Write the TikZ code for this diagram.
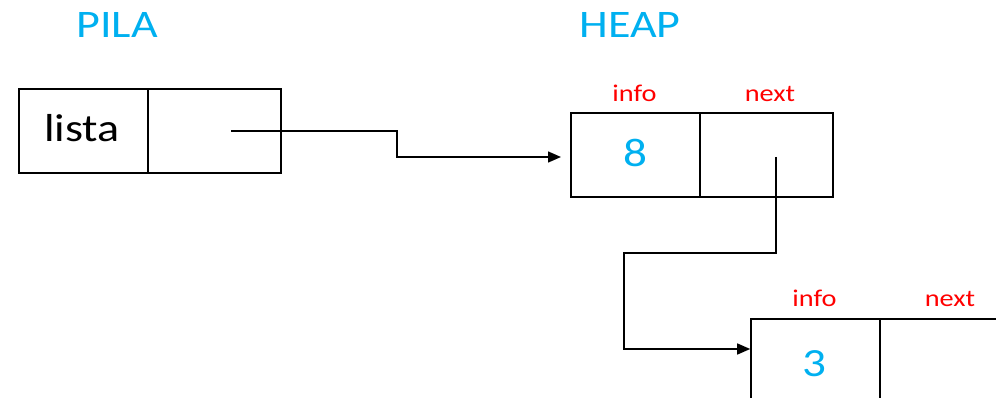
\documentclass[tikz,border=0pt]{standalone}
\usepackage{fontspec}
\setmainfont{Carlito}[FakeStretch=1.18]
\usetikzlibrary{arrows.meta}
\definecolor{titleblue}{RGB}{0,176,240}
\definecolor{labelred}{RGB}{255,0,0}
\begin{document}
\begin{tikzpicture}[x=1pt,y=-1pt,
  cellA/.style={draw, line width=1.6pt, minimum height=84pt, minimum width=129pt, inner sep=0pt},
  cellB/.style={draw, line width=1.6pt, minimum height=84pt, minimum width=133pt, inner sep=0pt},
  titletext/.style={text=titleblue, font=\fontsize{39}{44}\selectfont, anchor=base, inner sep=0pt},
  bodytext/.style={text=black, font=\fontsize{39}{44}\selectfont, anchor=base, inner sep=0pt},
  valtext/.style={text=titleblue, font=\fontsize{40}{44}\selectfont, anchor=base, inner sep=0pt},
  fieldtext/.style={text=labelred, font=\fontsize{24}{28}\selectfont, anchor=base, inner sep=0pt},
  link/.style={draw, line width=1.5pt, -{Triangle[length=13pt,width=11pt]}}
]
\useasboundingbox (0,0) rectangle (996,398);
\clip (0,0) rectangle (996,398);
% titles
\node[titletext] (pila) at (117,38) {PILA};
\node[titletext] (heap) at (630,38) {HEAP};
% stack box
\node[cellA] (lista) at (83.5,131) {};
\node[cellB] (listaptr) at (214.5,131) {};
\node[bodytext] (listatext) at (82,142) {lista};
% node 8
\node[cellA] (info1) at (635.5,155) {};
\node[cellB] (next1) at (766.5,155) {};
\node[valtext] (v1) at (635,167) {8};
\node[fieldtext] (i1lab) at (634.5,102) {info};
\node[fieldtext] (n1lab) at (770,102) {next};
% node 3
\node[cellA] (info2) at (815.5,361) {};
\node[cellB] (next2) at (946.5,361) {};
\node[valtext] (v2) at (814.5,376) {3};
\node[fieldtext] (i2lab) at (814.5,306.5) {info};
\node[fieldtext] (n2lab) at (950,306.5) {next};
% connectors
\coordinate (p1) at (231,131);
\coordinate (bend1) at (397,131);
\coordinate (t1) at (561,157);
\draw[link] (p1) -- (bend1) |- (t1);
\coordinate (p2) at (776,157);
\coordinate (bend2) at (776,253);
\coordinate (bend3) at (624,253);
\coordinate (t2) at (info2.west |- 0,349);
\draw[link] (p2) -- (bend2) -- (bend3) |- (t2);
\end{tikzpicture}
\end{document}
